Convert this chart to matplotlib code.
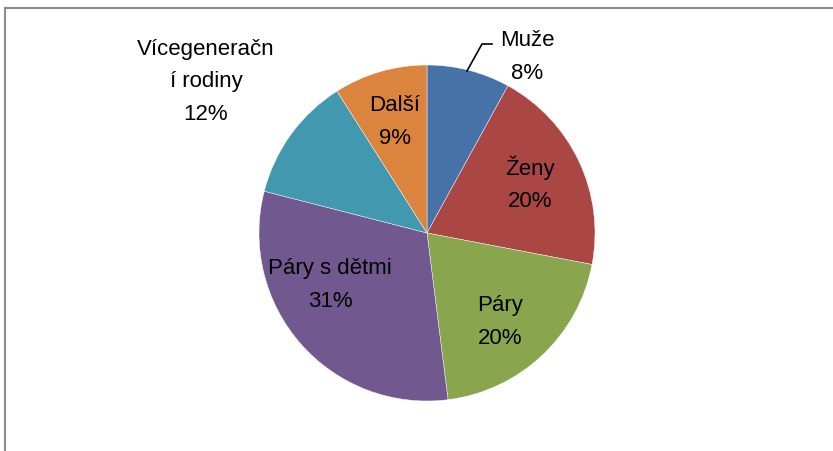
import matplotlib
matplotlib.use("Agg")
import matplotlib.pyplot as plt
from matplotlib.lines import Line2D

# data
labels = ["Muže", "Ženy", "Páry", "Páry s dětmi", "Vícegeneračn\ní rodiny", "Další"]
values = [8, 20, 20, 31, 12, 9]
colors = ["#4672A8", "#AA4644", "#89A54E", "#71588F", "#4198AF", "#DB843D"]

# label centres in pixel coords (x, y from top)
label_pos = [(527, 57), (530, 184), (500, 322), (330, 285), (206, 82), (395, 122)]

W, H = 833, 452
fig = plt.figure(figsize=(W / 100, H / 100), dpi=100)
ax = fig.add_axes([0, 0, 1, 1])

cx, cy, r = 427, H - 234, 168
ax.pie(values, colors=colors, startangle=90, counterclock=False,
       center=(cx, cy), radius=r, frame=True,
       wedgeprops=dict(edgecolor="white", linewidth=0.3))
ax.set_xlim(0, W)
ax.set_ylim(0, H)
ax.set_aspect("equal")
ax.axis("off")

for lab, v, (x, y) in zip(labels, values, label_pos):
    ax.text(x, H - y, f"{lab}\n{v}%", ha="center", va="center",
            fontsize=16, family="Liberation Sans", linespacing=1.7,
            color="black")

# leader line for Muže
ax.plot([492, 482, 467], [H - 45, H - 45, H - 72], color="black", lw=1.2)

# chart frame (cropped)
fig.add_artist(Line2D([5 / W, 1], [1 - 9 / H, 1 - 9 / H], color="#8c8c8c", lw=1.5))
fig.add_artist(Line2D([5 / W, 5 / W], [0, 1 - 9 / H], color="#8c8c8c", lw=1.5))

fig.savefig("out.png", dpi=100)
